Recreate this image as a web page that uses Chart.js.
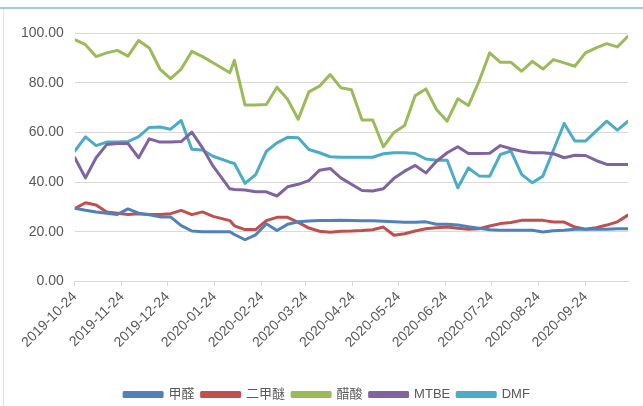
<!DOCTYPE html>
<html>
<head>
<meta charset="utf-8">
<script src="https://cdn.jsdelivr.net/npm/chart.js@4/dist/chart.umd.min.js"></script>
<style>
  body { margin: 0; background: #fff; }
  #wrap { position: absolute; left: 0; top: 0; width: 643px; height: 406px; }
  #frameTop { position: absolute; left: 0; top: 7px; width: 643px; height: 2px; background: #a7c7e7; }
  #frameLeft { position: absolute; left: 3px; top: 9px; width: 1px; height: 397px; background: #e3e3e3; }
</style>
</head>
<body>
<div id="wrap"><canvas id="myChart"></canvas></div>
<div id="frameTop"></div>
<div id="frameLeft"></div>
<script>
// weekly dates (one extra holiday week after spring festival)
var dates = ['2019-10-24','2019-10-31','2019-11-07','2019-11-14','2019-11-21','2019-11-28',
  '2019-12-05','2019-12-12','2019-12-19','2019-12-26','2020-01-02','2020-01-09','2020-01-16',
  '2020-01-23','2020-02-03','2020-02-06','2020-02-13','2020-02-20','2020-02-27','2020-03-05',
  '2020-03-12','2020-03-19','2020-03-26','2020-04-02','2020-04-09','2020-04-16','2020-04-23',
  '2020-04-30','2020-05-07','2020-05-14','2020-05-21','2020-05-28','2020-06-04','2020-06-11',
  '2020-06-18','2020-06-25','2020-07-02','2020-07-09','2020-07-16','2020-07-23','2020-07-30',
  '2020-08-06','2020-08-13','2020-08-20','2020-08-27','2020-09-03','2020-09-10','2020-09-17',
  '2020-09-24','2020-10-01','2020-10-08','2020-10-15','2020-10-22'];

var tickLabels = ['2019-10-24','2019-11-24','2019-12-24','2020-01-24','2020-02-24','2020-03-24',
  '2020-04-24','2020-05-24','2020-06-24','2020-07-24','2020-08-24','2020-09-24'];

var seriesNames = ['甲醛', '二甲醚', '醋酸', 'MTBE', 'DMF'];
var seriesColors = ['#4f81bd', '#c0504d', '#9bbb59', '#8064a2', '#4bacc6'];

var formaldehyde = [29.5,28.7,28,27.5,27,29.2,27.5,26.8,26,26,22.5,20.3,20,20,20,18.9,16.8,18.8,23.2,20.5,
  23,24,24.3,24.5,24.5,24.6,24.5,24.4,24.4,24.2,24,23.8,23.8,24,23,23,22.7,22,21.4,20.8,
  20.6,20.6,20.6,20.6,19.9,20.4,20.6,21,21,21,21,21.2,21.2];
var dme = [29.3,31.7,30.8,28,27.5,27,27.3,27,27,27.3,28.6,26.9,28,26.2,24.5,22.4,20.9,20.9,24.5,25.8,
  25.8,23.8,21.5,20.2,19.8,20.2,20.3,20.5,20.8,21.9,18.6,19.2,20.3,21.2,21.6,21.9,21.4,21,21.2,22.3,
  23.3,23.7,24.6,24.6,24.6,23.9,23.9,21.9,21,21.6,22.7,24,26.7];
var aceticAcid = [97.3,95.3,90.5,92,93,90.7,97,94,85.5,81.6,85.5,92.6,90.5,88,84,89,71,71,71.2,78.2,
  73.3,65.3,76.3,78.6,83.3,78,77.2,65,65,54.2,60,62.8,74.8,77.5,69.2,64.5,73.5,70.8,80.6,92,
  88.2,88.2,84.6,88.6,85.5,89.3,88,86.6,92,94,95.7,94.4,98.7];
var mtbe = [49.8,41.7,49.8,55.1,55.5,55.5,49.8,57.4,56.1,56.1,56.3,60.1,53.8,46.4,37.3,37,36.8,36.1,36.1,34.4,
  38.1,39.1,40.6,44.8,45.5,41.7,39.1,36.6,36.4,37.3,41.5,44.4,46.7,43.7,48.4,51.8,54.2,51.5,51.5,51.6,
  54.7,53.4,52.4,51.8,51.8,51.4,49.8,50.8,50.7,48.7,47.1,47.1,47.1];
var dmf = [52.5,58.2,54.7,56.1,56.1,56.3,58.3,62,62.2,61.3,64.8,53.2,52.9,50.4,48,47.5,39.5,43,52.4,55.8,
  58,57.8,53.1,51.8,50.2,50,50,50,50,51.4,51.8,51.8,51.5,49.3,48.8,48.8,37.7,45.7,42.5,42.4,
  51.1,52.5,43.1,39.7,42.4,53,63.6,56.5,56.5,60.5,64.5,60.9,64.5];

var allValues = [formaldehyde, dme, aceticAcid, mtbe, dmf];

// days since first date, used as x position
var startMs = Date.parse(dates[0]);
function dayOf(s) {
    return Math.round((Date.parse(s) - startMs) / 86400000);
}
var xDays = dates.map(dayOf);
var tickDays = tickLabels.map(dayOf);

var datasets = [];
for (var k = 0; k < seriesNames.length; k++) {
    var pts = [];
    for (var i = 0; i < dates.length; i++) {
        pts.push({x: xDays[i], y: allValues[k][i]});
    }
    datasets.push({
        label: seriesNames[k],
        data: pts,
        borderColor: seriesColors[k],
        backgroundColor: seriesColors[k],
        borderWidth: 3,
        pointRadius: 0,
        borderJoinStyle: 'round',
        borderCapStyle: 'round',
        tension: 0
    });
}

var fontFam = "'Liberation Sans', 'Noto Sans CJK SC', sans-serif";

// nudge legend right and down a bit, like the original
const legendShift = {
    id: 'legendShift',
    afterLayout: function(chart) {
        chart.legend.left += 8;
        chart.legend.right += 8;
        chart.legend.top += 5;
        chart.legend.bottom += 5;
    }
};

const config = {
    type: 'line',
    data: {datasets: datasets},
    options: {
        responsive: true,
        maintainAspectRatio: false,
        animation: false,
        layout: {padding: {left: 10, right: 15, top: 33, bottom: 0}},
        plugins: {
            tooltip: {enabled: false},
            legend: {
                position: 'bottom',
                labels: {
                    boxWidth: 38,
                    boxHeight: 4,
                    padding: 7,
                    color: '#595959',
                    font: {size: 13, family: fontFam}
                }
            }
        },
        scales: {
            x: {
                type: 'linear',
                min: 0,
                max: xDays[xDays.length - 1],
                afterBuildTicks: function(scale) {
                    scale.ticks = tickDays.map(function(d) { return {value: d}; });
                },
                afterFit: function(scale) {
                    scale.height += 23;
                },
                grid: {display: true, drawOnChartArea: false, drawTicks: true, tickLength: 5, color: '#d9d9d9'},
                border: {display: true, color: '#d9d9d9'},
                ticks: {
                    autoSkip: false,
                    minRotation: 45,
                    maxRotation: 45,
                    padding: 2,
                    color: '#595959',
                    font: {size: 14, family: fontFam},
                    callback: function(value, index) { return tickLabels[index]; }
                }
            },
            y: {
                min: 0,
                max: 100,
                grid: {color: '#d9d9d9', drawTicks: false},
                border: {display: false},
                ticks: {
                    stepSize: 20,
                    padding: 11,
                    color: '#595959',
                    font: {size: 14, family: fontFam},
                    callback: function(v) { return v.toFixed(2); }
                }
            }
        }
    },
    plugins: [legendShift]
};
const myChart = new Chart(document.getElementById('myChart'), config);
</script>
</body>
</html>
